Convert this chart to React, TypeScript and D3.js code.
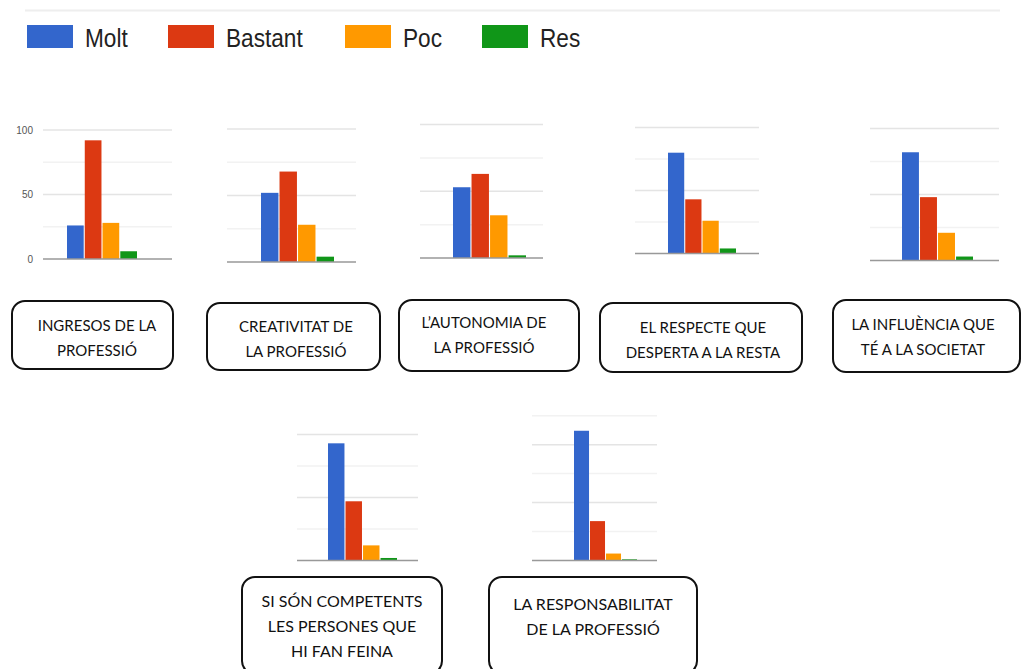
import React, { useEffect, useRef } from 'react'
import * as d3 from 'd3'

// survey answers per aspect (counts of respondents)
const series = ['Molt', 'Bastant', 'Poc', 'Res']
const seriesColors = ['#3366cc', '#dc3912', '#ff9900', '#109618']

const molt = [26, 52, 53, 80, 82, 93, 112]
const bastant = [92, 68, 63, 43, 48, 47, 34]
const poc = [28, 28, 32, 26, 21, 12, 6]
const res = [6, 4, 2, 4, 3, 2, 1]

const labels = [
  ['INGRESOS DE LA', 'PROFESSIÓ'],
  ['CREATIVITAT DE', 'LA PROFESSIÓ'],
  ['L’AUTONOMIA DE', 'LA PROFESSIÓ'],
  ['EL RESPECTE QUE', 'DESPERTA A LA RESTA'],
  ['LA INFLUÈNCIA QUE', 'TÉ A LA SOCIETAT'],
  ['SI SÓN COMPETENTS', 'LES PERSONES QUE', 'HI FAN FEINA'],
  ['LA RESPONSABILITAT', 'DE LA PROFESSIÓ'],
]

const yTicks = [0, 50, 100]

// where each pasted chart sits on the page
const panels = [
  { x0: 43, x1: 172, top: 130, base: 259, b0: 67, b1: 137, max: 100 },
  { x0: 227, x1: 356, top: 129, base: 262, b0: 261, b1: 334, max: 100 },
  { x0: 420, x1: 543, top: 124.5, base: 258, b0: 453, b1: 526, max: 100 },
  { x0: 635, x1: 759, top: 127.5, base: 253.5, b0: 668, b1: 736, max: 100 },
  { x0: 870, x1: 999, top: 128.5, base: 260.5, b0: 902, b1: 973, max: 100 },
  { x0: 297, x1: 418, top: 434.5, base: 560.5, b0: 328, b1: 397, max: 100 },
  { x0: 532, x1: 657, top: 415.7, base: 560.5, b0: 574, b1: 637, max: 125 },
]

const boxes = [
  { x: 12, y: 301, w: 161, h: 68, tx: 97, ty: 331, fs: 15 },
  { x: 207, y: 303, w: 173, h: 67, tx: 296, ty: 332, fs: 15 },
  { x: 399, y: 300, w: 180, h: 71, tx: 484, ty: 328, fs: 15 },
  { x: 600, y: 303, w: 202, h: 69, tx: 703, ty: 333, fs: 15 },
  { x: 833, y: 300, w: 187, h: 72, tx: 923, ty: 330, fs: 15 },
  { x: 242, y: 577, w: 200, h: 97, tx: 342, ty: 607, fs: 16 },
  { x: 489, y: 577, w: 208, h: 97, tx: 593, ty: 610, fs: 16 },
]

export default function App() {
  const svgRef = useRef(null)

  useEffect(() => {
    const svg = d3.select(svgRef.current)
    svg.selectAll('*').remove()

    svg.append('rect').attr('width', 1023).attr('height', 669).attr('fill', '#fff')

    // legend
    svg
      .append('line')
      .attr('x1', 25)
      .attr('x2', 1000)
      .attr('y1', 10.5)
      .attr('y2', 10.5)
      .attr('stroke', '#eeeeee')
      .attr('stroke-width', 2)

    const legendX = d3.scaleOrdinal<string, number>().domain(series).range([27, 168, 345, 482])
    const legend = svg
      .selectAll('.legend')
      .data(series)
      .enter()
      .append('g')
      .attr('class', 'legend')
      .attr('transform', (d) => `translate(${legendX(d)},25)`)
    legend
      .append('rect')
      .attr('width', 46)
      .attr('height', 23)
      .attr('fill', (d, i) => seriesColors[i])
    legend
      .append('text')
      .attr('transform', 'translate(58,22) scale(0.87,1)')
      .attr('font-family', 'Liberation Sans, Arial, sans-serif')
      .attr('font-size', 26)
      .attr('fill', '#222')
      .text((d) => d)

    const values = [molt, bastant, poc, res]

    panels.forEach((p, k) => {
      const g = svg.append('g')
      const y = d3.scaleLinear().domain([0, p.max]).range([p.base, p.top])
      const x = d3.scaleBand<string>().domain(series).range([p.b0, p.b1]).paddingInner(0.06)

      const grid = d3.range(0, p.max + 1, 25)
      g.selectAll('.grid')
        .data(grid.filter((v) => v > 0))
        .enter()
        .append('line')
        .attr('x1', p.x0)
        .attr('x2', p.x1)
        .attr('y1', (d) => y(d))
        .attr('y2', (d) => y(d))
        .attr('stroke', (d) => (d % 50 === 0 ? '#e4e4e4' : '#f2f2f2'))
        .attr('stroke-width', 1.5)

      g.selectAll('.bar')
        .data(series)
        .enter()
        .append('rect')
        .attr('x', (d) => x(d))
        .attr('width', x.bandwidth())
        .attr('y', (d, i) => y(values[i][k]))
        .attr('height', (d, i) => p.base - y(values[i][k]))
        .attr('fill', (d, i) => seriesColors[i])

      g.append('line')
        .attr('x1', p.x0)
        .attr('x2', p.x1)
        .attr('y1', p.base)
        .attr('y2', p.base)
        .attr('stroke', '#999')
        .attr('stroke-width', 1.5)

      if (k === 0) {
        g.selectAll('.tick')
          .data(yTicks)
          .enter()
          .append('text')
          .attr('x', 33)
          .attr('y', (d) => y(d))
          .attr('dy', '0.35em')
          .attr('text-anchor', 'end')
          .attr('font-family', 'Liberation Sans, Arial, sans-serif')
          .attr('font-size', 10)
          .attr('fill', '#555')
          .text((d) => d)
      }
    })

    // label boxes
    boxes.forEach((b, k) => {
      svg
        .append('rect')
        .attr('x', b.x)
        .attr('y', b.y)
        .attr('width', b.w)
        .attr('height', b.h)
        .attr('rx', 13)
        .attr('fill', 'none')
        .attr('stroke', '#111')
        .attr('stroke-width', 2)
      const t = svg
        .append('text')
        .attr('font-family', 'Lato, sans-serif')
        .attr('font-size', b.fs)
        .attr('fill', '#111')
        .attr('text-anchor', 'middle')
      labels[k].forEach((line, j) => {
        t.append('tspan').attr('x', b.tx).attr('y', b.ty + j * 25).text(line)
      })
    })
  }, [])

  return (
    <svg
      ref={svgRef}
      width={1023}
      height={669}
      style={{ position: 'absolute', left: 0, top: 0 }}
    ></svg>
  )
}
